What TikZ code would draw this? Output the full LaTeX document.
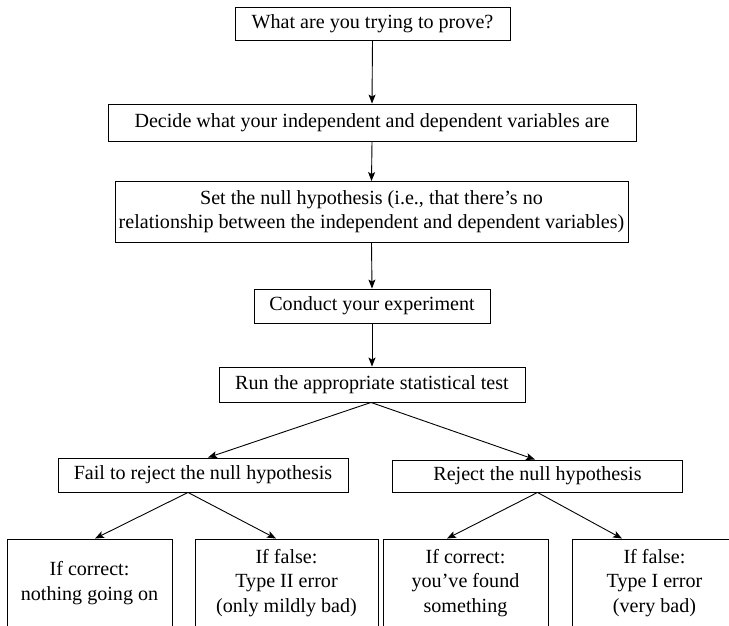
\documentclass[tikz,border=0pt]{standalone}
\usepackage{fontspec}
\setmainfont{Liberation Serif}
\usetikzlibrary{arrows.meta}
\begin{document}
\begin{tikzpicture}[x=1pt,y=-1pt,
  box/.style={draw, line width=0.9pt, inner sep=0pt, align=center,
    font=\fontsize{20.1}{24.3}\selectfont},
  arr/.style={line width=0.9pt, -{Stealth[length=9pt,width=7pt,inset=2pt]}}]
\useasboundingbox (0,0) rectangle (729,625);
\clip (0,0) rectangle (729,625);
\node[box, minimum width=275, minimum height=33] (b1) at (372.5,23.5) {What are you trying to prove?};
\node[box, minimum width=528, minimum height=37] (b2) at (372,122.5) {Decide what your independent and dependent variables are};
\node[box, minimum width=513, minimum height=61] (b3) at (371.5,212) {Set the null hypothesis (i.e., that there’s no\\relationship between the independent and dependent variables)};
\node[box, minimum width=236, minimum height=34] (b4) at (372,306) {Conduct your experiment};
\node[box, minimum width=306, minimum height=35] (b5) at (372,384.5) {Run the appropriate statistical test};
\node[box, minimum width=290, minimum height=34] (b6) at (203,475) {Fail to reject the null hypothesis};
\node[box, minimum width=290, minimum height=32] (b7) at (537.5,476) {Reject the null hypothesis};
\node[box, minimum width=165, minimum height=88] (b8) at (89.5,583) {If correct:\\nothing going on};
\node[box, minimum width=183, minimum height=88] (b9) at (286.5,583) {If false:\\Type II error\\(only mildly bad)};
\node[box, minimum width=165, minimum height=88] (b10) at (465.5,583) {If correct:\\you’ve found\\something};
\node[box, minimum width=165, minimum height=88] (b11) at (654.5,583) {If false:\\Type I error\\(very bad)};
\draw[arr] (b1.south) -- (b2.north);
\draw[arr] (b2.south) -- (b3.north);
\draw[arr] (b3.south) -- (b4.north);
\draw[arr] (b4.south) -- (b5.north);
\draw[arr] ([xshift=-1pt]b5.south) -- ([xshift=5pt]b6.north);
\draw[arr] ([xshift=-1pt]b5.south) -- ([xshift=-2.5pt]b7.north);
\draw[arr] ([xshift=-15pt]b6.south) -- ([xshift=5.5pt]b8.north);
\draw[arr] ([xshift=-15pt]b6.south) -- ([xshift=-10.5pt]b9.north);
\draw[arr] (b7.south) -- ([xshift=-18.5pt]b10.north);
\draw[arr] (b7.south) -- ([xshift=-32.5pt]b11.north);
\end{tikzpicture}
\end{document}
